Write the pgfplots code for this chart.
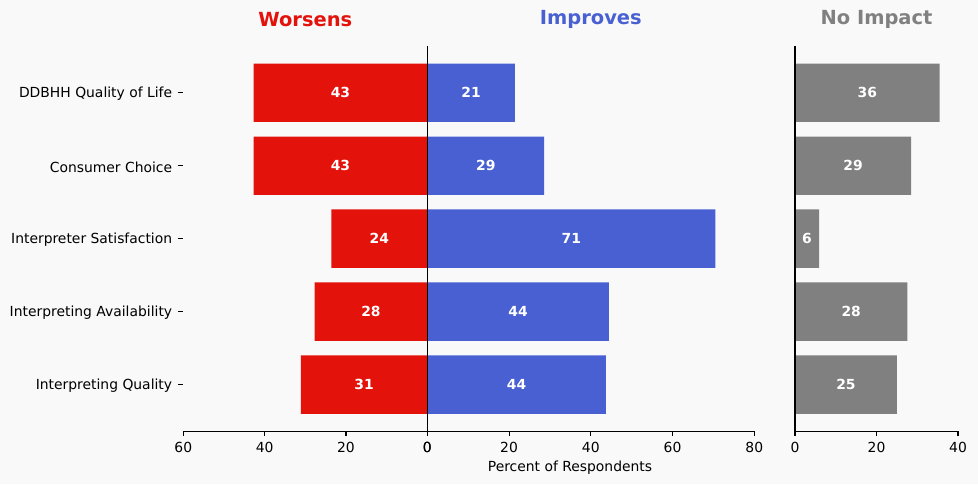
\documentclass[border=0pt]{standalone}
\usepackage{pgfplots}
\pgfplotsset{compat=1.18}
\usepackage{fontspec}
\setmainfont{DejaVu Sans}
\definecolor{bg}{HTML}{F9F9F9}
\definecolor{worse}{RGB}{227,18,11}
\definecolor{better}{RGB}{72,96,210}
\definecolor{noimp}{RGB}{128,128,128}
\pgfplotsset{
  base/.style={
    scale only axis, clip=false,
    height=277.4pt,
    ymin=-0.64, ymax=4.64,
    axis line style={draw=none},
    tick pos=left, tick align=outside,
    major tick length=3.5pt,
    every tick/.style={black, line width=0.8pt},
    tick label style={font=\fontsize{10}{12}\selectfont},
    xticklabel style={yshift=-1pt},
    /pgf/number format/assume math mode=true,
    xbar, bar width=0.8, bar shift=0pt,
    title style={at={(0.5,1)}, anchor=center, yshift=12.9pt, font=\fontsize{14}{16}\selectfont\bfseries},
  },
  lbl/.style={
    nodes near coords, point meta=explicit symbolic,
    visualization depends on=rawx \as \rawx,
    every node near coord/.append style={anchor=center, text=white,
      font=\fontsize{10}{12}\selectfont\bfseries,
      shift={(axis direction cs:-\rawx/2,0)}},
  },
}
\begin{document}
\begin{tikzpicture}
\fill[bg] (0,0) rectangle (704.16pt,348.48pt);
\path[use as bounding box] (0,0) rectangle (704.16pt,348.48pt);
% Worsens
\begin{axis}[base, at={(131.98pt,37.94pt)}, anchor=south west, width=175.68pt,
  xmin=-60, xmax=0, xtick={-60,-40,-20,0}, xticklabels={60,40,20,0},
  ytick={0,1,2,3,4},
  yticklabels={Interpreting Quality,Interpreting Availability,Interpreter Satisfaction,Consumer Choice,DDBHH Quality of Life},
  yticklabel style={xshift=-1pt, yshift=-1pt},
  title={\textcolor{worse}{Worsens}}]
\addplot[fill=worse, draw=none, lbl] coordinates {
  (-31.1,0) [31]
  (-27.7,1) [28]
  (-23.6,2) [24]
  (-42.7,3) [43]
  (-42.7,4) [43]
};
\draw[line width=0.8pt] (rel axis cs:0,0) -- (rel axis cs:1,0);
\end{axis}
% Improves
\begin{axis}[base, at={(307.66pt,37.94pt)}, anchor=south west, width=235.44pt,
  xmin=0, xmax=80, xtick={0,20,40,60,80}, ytick=\empty,
  title={\textcolor{better}{Improves}}]
\addplot[fill=better, draw=none, lbl] coordinates {
  (43.7,0) [44]
  (44.4,1) [44]
  (70.5,2) [71]
  (28.6,3) [29]
  (21.4,4) [21]
};
\draw[line width=0.8pt] (rel axis cs:0,1) -- (rel axis cs:0,0) -- (rel axis cs:1,0);
\end{axis}
% No Impact
\begin{axis}[base, at={(572.4pt,37.94pt)}, anchor=south west, width=117.36pt,
  xmin=0, xmax=40, xtick={0,20,40}, ytick=\empty,
  title={\textcolor{noimp}{No Impact}}]
\addplot[fill=noimp, draw=none, lbl] coordinates {
  (25.0,0) [25]
  (27.6,1) [28]
  (5.9,2) [6]
  (28.5,3) [29]
  (35.5,4) [36]
};
\draw[line width=0.8pt] (rel axis cs:0,1) -- (rel axis cs:0,0) -- (rel axis cs:1,0);
\end{axis}
\node[font=\fontsize{10}{12}\selectfont] at (410.4pt,11.5pt) {Percent of Respondents};
\end{tikzpicture}
\end{document}
